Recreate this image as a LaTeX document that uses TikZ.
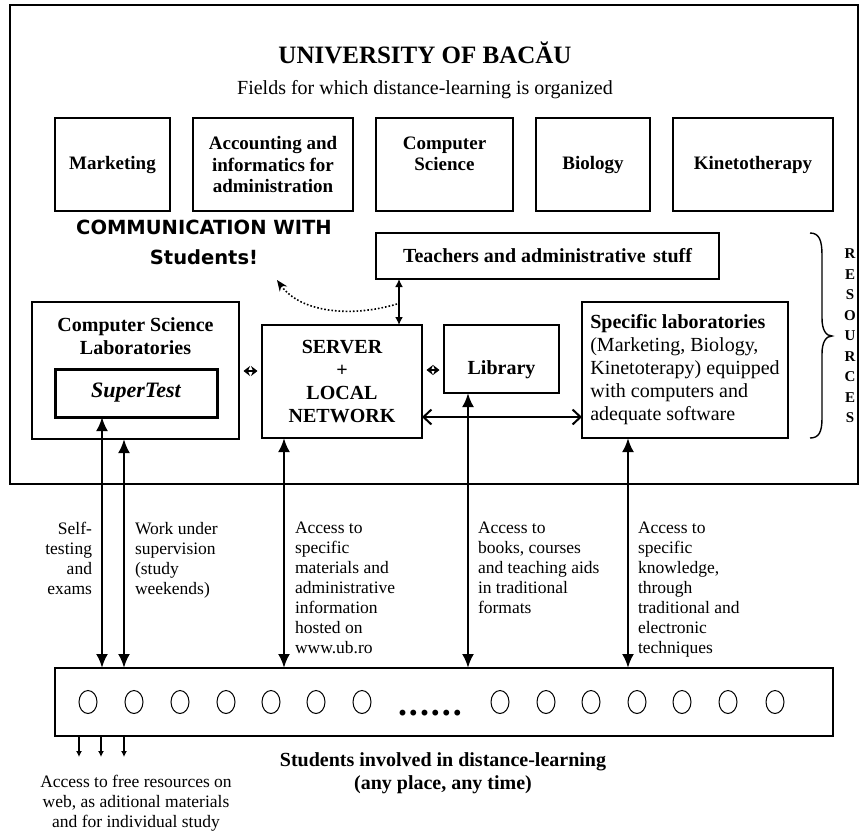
\documentclass[tikz,border=0pt]{standalone}
\usepackage{fontspec}
\setmainfont{Liberation Serif}
\newfontfamily\commfont{DejaVu Sans}
\usetikzlibrary{arrows.meta}
\begin{document}
\begin{tikzpicture}[x=1pt,y=-1pt,
  every node/.style={inner sep=0pt, outer sep=0pt},
  bx/.style={draw, line width=1.4pt, align=center},
  fld/.style={font=\bfseries\fontsize{19}{21.5}\selectfont},
  bftw/.style={font=\bfseries\fontsize{20}{23}\selectfont},
  lab/.style={font=\fontsize{17.5}{20}\selectfont, align=left, anchor=north west},
  big/.style={line width=2.6pt, {Latex[length=14pt,width=12pt]}-{Latex[length=14pt,width=12pt]}},
  tarrow/.style={line width=1.8pt, {Latex[length=8pt,width=8pt]}-{Latex[length=8pt,width=8pt]}},
  tinyarr/.style={line width=1.5pt, {Stealth[length=6.5pt,width=10pt]}-{Stealth[length=6.5pt,width=10pt]}, shorten <=4.5pt, shorten >=4.5pt},
  hbarb/.style={line width=2pt, {Straight Barb[length=8pt,width=15pt]}-{Straight Barb[length=8pt,width=15pt]}},
  smallarr/.style={line width=1.6pt, -{Latex[length=6pt,width=6pt]}}
]
\useasboundingbox (0,0) rectangle (867,831);
% outer frame
\draw[line width=1.6pt] (10,5) rectangle (858,484);

\node[font=\bfseries\fontsize{25}{28}\selectfont] (title) at (425,53) {UNIVERSITY OF BACĂU};
\node[font=\fontsize{20}{23}\selectfont] (fields) at (425,90) {Fields for which distance-learning is organized};

% field boxes
\node[bx, fld, minimum width=115pt, minimum height=93pt] (mkt) at (112.5,164.5) {Marketing};
\node[bx, fld, minimum width=160pt, minimum height=93pt] (acc) at (273,164.5) {Accounting and\\informatics for\\administration};
\node[bx, fld, minimum width=137pt, minimum height=93pt] (csf) at (444.5,164.5) {Computer\\Science\\\mbox{}};
\node[bx, fld, minimum width=114pt, minimum height=93pt] (bio) at (593,164.5) {Biology};
\node[bx, fld, minimum width=160pt, minimum height=93pt] (kin) at (753,164.5) {Kinetotherapy};

% communication
\node[font=\commfont\bfseries\fontsize{19.5}{30}\selectfont, align=center, anchor=north] (comm) at (204,220) {COMMUNICATION WITH\\Students!};

% teachers
\node[bx, bftw, minimum width=343pt, minimum height=46pt] (teach) at (547.5,256) {Teachers and administrative\hspace{0.12em} stuff};

% CS labs
\node[bx, minimum width=207pt, minimum height=137pt] (csl) at (135.5,370.5) {};
\node[bftw, align=center, anchor=north] (cslt) at (135.5,318) {Computer Science\\Laboratories};
\node[draw, line width=3pt, minimum width=162pt, minimum height=48pt, font=\bfseries\itshape\fontsize{22}{24}\selectfont] (st) at (136,393) {SuperTest};

% server
\node[bx, bftw, minimum width=160pt, minimum height=113pt] (srv) at (342,381.5) {SERVER\\+\\LOCAL\\NETWORK};

% library
\node[bx, minimum width=115pt, minimum height=68pt] (lib) at (501.5,359) {};
\node[bftw] (libt) at (501.5,370) {Library};

% specific labs
\node[bx, font=\fontsize{20}{23}\selectfont, align=left, minimum width=206pt, minimum height=136pt] (spec) at (685,370) {\textbf{Specific laboratories}\\(Marketing, Biology,\\Kinetoterapy) equipped\\with computers and\\adequate software};

% brace + resources
\draw[line width=1.4pt] (810,233) .. controls (819,233) and (822,240) .. (822,255) -- (822,318) .. controls (822,330) and (826,336) .. (832,336) .. controls (826,336) and (822,342) .. (822,354) -- (822,418) .. controls (822,432) and (819,438) .. (810,438);
\node[font=\bfseries\fontsize{15}{20.5}\selectfont, align=center, anchor=north] (res) at (850,249) {R\\E\\S\\O\\U\\R\\C\\E\\S};

% students box
\node[draw, line width=2pt, minimum width=778pt, minimum height=68pt] (stud) at (444,702) {};
\foreach \x in {88,134,180,226,271,316,362,500,546,591,637,682,728,775}
  \draw[line width=1pt] (\x,702) ellipse [x radius=9, y radius=11.5];
\node[font=\bfseries\fontsize{36}{36}\selectfont, anchor=base] (dots) at (430,715) {.\hspace{2pt}.\hspace{2pt}.\hspace{2pt}.\hspace{2pt}.\hspace{2pt}.};

% connectors
\draw[tarrow] (399,0 |- teach.south) -- (399,0 |- srv.north);
\coordinate (dstart) at (397,304);
\coordinate (dend) at (277,280);
\draw[dotted, line width=1.6pt, -{Stealth[length=11pt,width=9pt]}] (dstart) .. controls (350,318) and (300,312) .. (dend);
\draw[tinyarr] (csl.east |- 0,371) -- (srv.west |- 0,371);
\draw[tinyarr] (srv.east |- 0,370) -- (lib.west |- 0,370);
\draw[hbarb] (srv.east |- 0,417) -- (spec.west |- 0,417);

\draw[big] (102,0 |- st.south) -- (102,0 |- stud.north);
\draw[big] (124,0 |- csl.south) -- (124,0 |- stud.north);
\draw[big] (284,0 |- srv.south) -- (284,0 |- stud.north);
\draw[big] (468,0 |- lib.south) -- (468,0 |- stud.north);
\draw[big] (628,0 |- spec.south) -- (628,0 |- stud.north);

\coordinate (f1) at (79,757);
\coordinate (f2) at (101,757);
\coordinate (f3) at (124,757);
\draw[smallarr] (f1 |- stud.south) -- (f1);
\draw[smallarr] (f2 |- stud.south) -- (f2);
\draw[smallarr] (f3 |- stud.south) -- (f3);

% labels
\node[lab, align=right, anchor=north east] (l1) at (92,522) {Self-\\testing\\and\\exams};
\node[lab] (l2) at (135,522) {Work under\\supervision\\(study\\weekends)};
\node[lab] (l3) at (295,522) {Access to\\specific\\materials and\\administrative\\information\\hosted on\\www.ub.ro};
\node[lab] (l4) at (478,522) {Access to\\books, courses\\and teaching aids\\in traditional\\formats};
\node[lab] (l5) at (638,522) {Access to\\specific\\knowledge,\\through\\traditional and\\electronic\\techniques};

\node[font=\bfseries\fontsize{20}{22.5}\selectfont, align=center, anchor=north] (sinv) at (443,753) {Students involved in distance-learning\\(any place, any time)};
\node[font=\fontsize{17.5}{20}\selectfont, align=center, anchor=north] (afree) at (136,775) {Access to free resources on\\web, as aditional materials\\and for individual study};
\end{tikzpicture}
\end{document}
